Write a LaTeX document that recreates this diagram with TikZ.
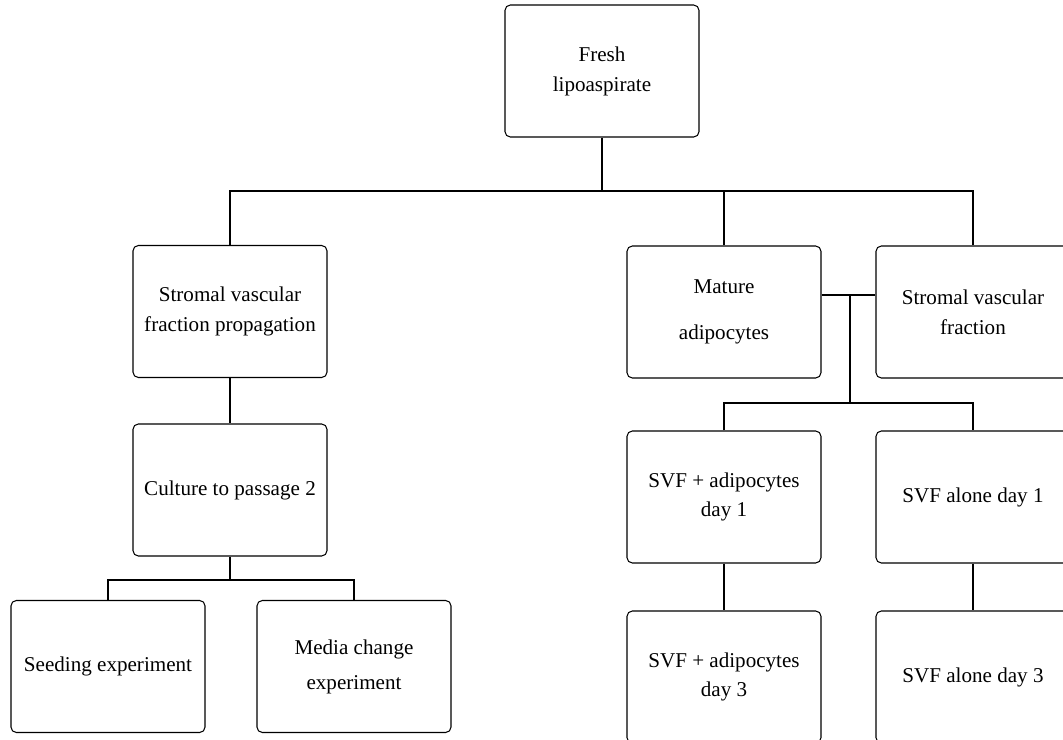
\documentclass[tikz,border=0pt]{standalone}
\usepackage{fontspec}
\setmainfont{Liberation Serif}

\begin{document}
\begin{tikzpicture}[x=0.02cm, y=-0.02cm,
				stage/.style={draw, rectangle, rounded corners=3pt, line width=0.6pt, minimum width=3.88cm, minimum height=2.64cm, inner sep=2pt, align=center, font=\fontsize{12}{17}\selectfont},
				link/.style={draw, line width=0.6pt}]
				\clip (0,0) rectangle (1063,740);
				
				\node[stage](fresh) at (602, 71) {Fresh\\lipoaspirate};
				
				\node[stage](svfprop) at (230, 311.5) {Stromal vascular\\fraction propagation};
				\node[stage](mature) at (724, 312) {Mature\\[0.32cm]adipocytes};
				\node[stage](svf) at (973, 312) {Stromal vascular\\fraction};
				
				\node[stage](culture) at (230, 490) {Culture to passage 2};
				\node[stage](seeding) at (108, 666.5) {Seeding experiment};
				\node[stage](media) at (354, 666.5) {Media change\\[0.1cm]experiment};
				
				\node[stage](adi1) at (724, 497) {SVF + adipocytes\\day 1};
				\node[stage](alone1) at (973, 497) {SVF alone day 1};
				\node[stage](adi3) at (724, 677) {SVF + adipocytes\\day 3};
				\node[stage](alone3) at (973, 677) {SVF alone day 3};
				
				% branching points
				\coordinate (split1) at (602, 191);
				\coordinate (join) at (850, 295);
				\coordinate (split2) at (850, 403);
				\coordinate (split3) at (230, 580);
				
				\draw[link] (fresh) -- (split1);
				\draw[link] (svfprop.north) |- (split1) -| (svf.north);
				\draw[link] (mature.north) -- (mature.north |- split1);
				
				\draw[link] (mature.east |- join) -- (svf.west |- join);
				\draw[link] (join) -- (split2);
				\draw[link] (adi1.north) |- (split2) -| (alone1.north);
				\draw[link] (adi1) -- (adi3);
				\draw[link] (alone1) -- (alone3);
				
				\draw[link] (svfprop) -- (culture);
				\draw[link] (culture) -- (split3);
				\draw[link] (seeding.north) |- (split3) -| (media.north);
			\end{tikzpicture}
\end{document}
